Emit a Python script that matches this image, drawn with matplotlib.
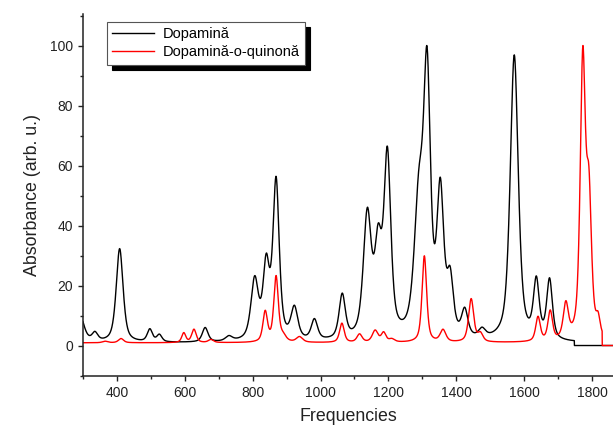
import numpy as np
import matplotlib.pyplot as plt
from matplotlib.ticker import MultipleLocator

plt.rcParams['font.family'] = ['Liberation Sans', 'DejaVu Sans']

# Band list: centre, height, half width
dopa_centers = [290, 335, 408, 497, 525, 660, 730, 806, 840, 869, 923, 982, 1064,
                1138, 1170, 1197, 1290, 1314, 1353, 1382, 1425, 1476, 1571, 1636, 1675]
dopa_heights = [9.5, 2.8, 31.5, 4.2, 2.4, 4.8, 1.6, 20.0, 24.0, 53.0, 10.5, 6.8, 14.8,
                41.0, 28.0, 60.0, 44.3, 84.0, 47.5, 18.0, 8.8, 2.8, 96.0, 19.0, 20.0]
dopa_widths = [15, 10, 12, 9, 9, 10, 12, 13, 11, 11, 12, 11, 11,
               14, 12, 12, 16, 12, 12, 11, 11, 12, 14, 10, 10]
dopa_base = 0.8
dopa_end = 1748

quin_centers = [365, 412, 597, 627, 677, 837, 869, 890, 938, 1063, 1115, 1161, 1186,
                1210, 1306, 1361, 1444, 1471, 1641, 1677, 1723, 1773, 1791, 1818]
quin_heights = [0.5, 1.4, 3.2, 4.4, 1.0, 10.0, 21.8, 1.7, 1.8, 6.4, 2.7, 3.9, 3.1,
                1.0, 28.8, 4.0, 14.4, 2.7, 8.1, 9.8, 11.6, 92.0, 45.0, 5.5]
quin_widths = [9, 9, 7, 8, 9, 8, 8, 10, 11, 8, 9, 10, 8,
               10, 8, 10, 9, 9, 8, 8, 9, 9, 9, 7]
quin_base = 0.9
quin_end = 1830

x = np.linspace(300, 1862, 4000)


# pseudo-Voigt band shape
def band(x, c, w, eta=0.6):
    u = (x - c) / w
    return eta / (1 + u**2) + (1 - eta) * np.exp(-np.log(2) * u**2)


def spectrum(x, centers, heights, widths, base):
    y = np.full_like(x, base)
    for c, h, w in zip(centers, heights, widths):
        y += h * band(x, c, w)
    return y


dopa = spectrum(x, dopa_centers, dopa_heights, dopa_widths, dopa_base)
dopa = 100 * dopa / dopa.max()
dopa[x > dopa_end] = 0

quin = spectrum(x, quin_centers, quin_heights, quin_widths, quin_base)
quin = 100 * quin / quin.max()
quin[x > quin_end] = 0

fig = plt.figure(figsize=(6.13, 4.30), dpi=100)
ax = fig.add_axes([0.1354, 0.1267, 0.8646, 0.8407])

ax.plot(x, dopa, color='black', lw=1.0, label='Dopamină')
ax.plot(x, quin, color='red', lw=1.0, label='Dopamină-o-quinonă')

ax.set_xlim(300, 1862)
ax.set_ylim(-10, 110.5)
ax.xaxis.set_major_locator(MultipleLocator(200))
ax.xaxis.set_minor_locator(MultipleLocator(100))
ax.yaxis.set_major_locator(MultipleLocator(20))
ax.yaxis.set_minor_locator(MultipleLocator(10))

for s in ['top', 'right']:
    ax.spines[s].set_visible(False)
for s in ['left', 'bottom']:
    ax.spines[s].set_linewidth(1.1)
    ax.spines[s].set_color('#222222')

ax.tick_params(which='major', direction='out', length=3.8, width=1.0,
               labelsize=10, colors='#222222')
ax.tick_params(which='minor', direction='out', length=2.2, width=1.0, colors='#222222')

ax.set_xlabel('Frequencies', fontsize=12.8, color='#222222', labelpad=6)
ax.set_ylabel('Absorbance (arb. u.)', fontsize=12.8, color='#222222', labelpad=6)

leg = ax.legend(loc='upper left', bbox_to_anchor=(0.045, 0.978), fontsize=10.5,
                fancybox=False, framealpha=1, edgecolor='#555555',
                handlelength=2.9, handletextpad=0.6, borderpad=0.35,
                labelspacing=0.3, borderaxespad=0,
                shadow={'ox': 3.6, 'oy': -3.6, 'color': 'black', 'alpha': 1})
leg.get_frame().set_linewidth(0.8)

plt.savefig('out.png', dpi=100)
